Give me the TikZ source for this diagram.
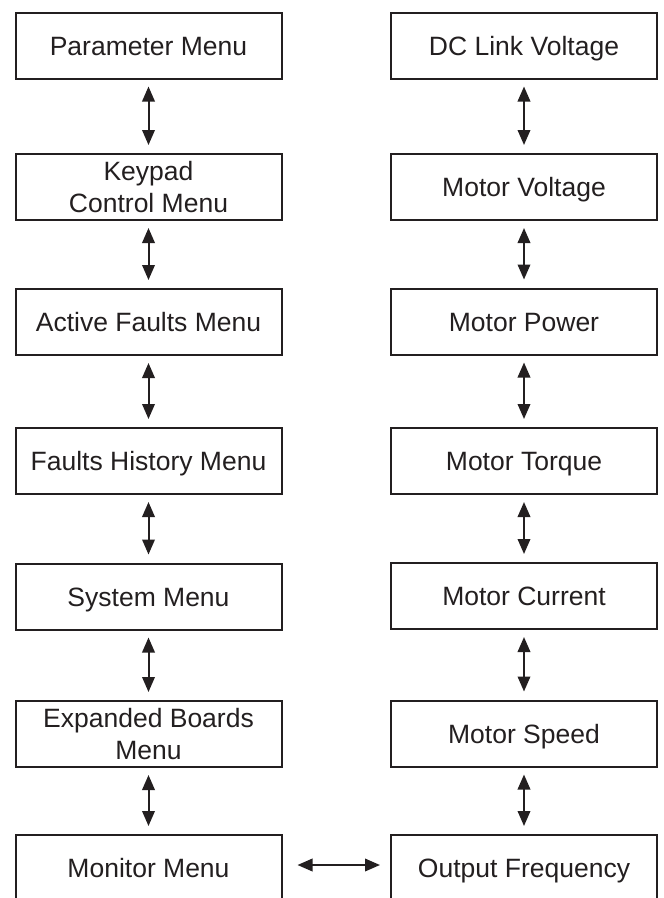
\documentclass[tikz,border=0pt]{standalone}
\usepackage{fontspec}
\setmainfont{Liberation Sans}
\usetikzlibrary{arrows.meta}
\definecolor{ink}{HTML}{231F20}
\tikzset{
  menubox/.style={draw=ink, line width=2pt, minimum width=266pt, minimum height=66pt,
    inner sep=0pt, align=center, text=ink, text height=19pt, text depth=0pt,
    font=\fontsize{26.5pt}{31.5pt}\selectfont},
  twoline/.style={text height=50.5pt},
  biarrow/.style={draw=ink, line width=2pt,
    {Triangle[length=15pt,width=12.5pt]}-{Triangle[length=15pt,width=12.5pt]}},
  varrow/.style={biarrow, shorten <=7pt, shorten >=8pt}
}
\begin{document}
\begin{tikzpicture}[x=1pt,y=-1pt]
\clip (0,0) rectangle (664,898);
\fill[white] (0,0) rectangle (664,898);
% left column
\node[menubox] (pm)  at (148.5,45.5)  {Parameter Menu};
\node[menubox,twoline] (kc)  at (148.5,187)   {Keypad\\Control Menu};
\node[menubox] (af)  at (148.5,322)   {Active Faults Menu};
\node[menubox] (fh)  at (148.5,461)   {Faults History Menu};
\node[menubox] (sm)  at (148.5,596.5) {System Menu};
\node[menubox,twoline] (eb)  at (148.5,734)   {Expanded Boards\\Menu};
\node[menubox] (mm)  at (148.5,868)   {Monitor Menu};
% right column
\node[menubox] (dc)  at (524,45.5)  {DC Link Voltage};
\node[menubox] (mv)  at (524,187)   {Motor Voltage};
\node[menubox] (mp)  at (524,321.5) {Motor Power};
\node[menubox] (mt)  at (524,461)   {Motor Torque};
\node[menubox] (mc)  at (524,596)   {Motor Current};
\node[menubox] (ms)  at (524,733.5) {Motor Speed};
\node[menubox] (of)  at (524,868)   {Output Frequency};
% vertical arrows
\draw[varrow] (pm.south) -- (kc.north);
\draw[varrow] (kc.south) -- (af.north);
\draw[varrow] (af.south) -- (fh.north);
\draw[varrow] (fh.south) -- (sm.north);
\draw[varrow] (sm.south) -- (eb.north);
\draw[varrow] (eb.south) -- (mm.north);
\draw[varrow] (dc.south) -- (mv.north);
\draw[varrow] (mv.south) -- (mp.north);
\draw[varrow] (mp.south) -- (mt.north);
\draw[varrow] (mt.south) -- (mc.north);
\draw[varrow] (mc.south) -- (ms.north);
\draw[varrow] (ms.south) -- (of.north);
% horizontal arrow
\draw[biarrow] ([xshift=15pt,yshift=3pt]mm.east) -- ([xshift=-10pt,yshift=3pt]of.west);
\end{tikzpicture}
\end{document}
